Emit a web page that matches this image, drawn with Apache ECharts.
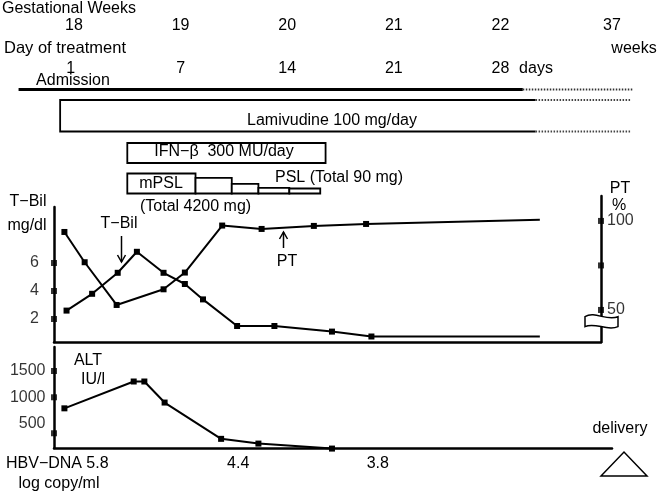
<!DOCTYPE html>
<html><head><meta charset="utf-8">
<script src="https://cdn.jsdelivr.net/npm/echarts@6/dist/echarts.min.js"></script>
<style>html,body{margin:0;padding:0;background:#fff}#c{width:661px;height:494px}</style>
</head><body><div id="c"></div>
<script>
// ---------------- data ----------------
const weekTicks = [18, 19, 20, 21, 22];
const weekLabels = ['18', '19', '20', '21', '22'];
const dayTickWeeks = [17.97, 19, 20, 21, 22];
const dayLabels = ['1', '7', '14', '21', '28'];

const hospitalization = [17.48, 22.21, 23.25];   // start, end solid, end dotted (weeks)
const lamivudine = [17.87, 22.33, 23.22];
const ifnBeta = [18.50, 20.36];
const steroidStarts = [18.50, 19.14, 19.48, 19.73, 20.02];
const steroidEnds   = [19.14, 19.48, 19.73, 20.02, 20.31];
const steroidDose   = [1.00, 0.78, 0.48, 0.28, 0.25]; // relative

const tbilWeeks  = [17.93, 18.17, 18.41, 18.59, 18.84, 19.04, 19.21, 19.53, 19.88, 20.42, 20.79, 22.37];
const tbilValues = [2.6, 3.8, 5.3, 6.8, 5.3, 4.5, 3.4, 1.5, 1.5, 1.1, 0.75, 0.75];
const ptWeeks  = [17.91, 18.10, 18.40, 18.84, 19.04, 19.39, 19.76, 20.25, 20.74, 22.37];
const ptValues = [93.8, 76.8, 52.8, 61.6, 71.0, 97.4, 95.5, 97.2, 98.3, 100.6];
const altWeeks  = [17.91, 18.56, 18.66, 18.85, 19.38, 19.73, 20.42];
const altValues = [790, 1300, 1300, 900, 210, 120, 25];

const tbilTicks = [2, 4, 6];
const ptTicks = [100, 75, 50];
const ptTickLabels = ['100', '', '50'];
const altTickMarks = [1500, 1000, 316];
const altLabelValues = [1500, 1000, 500];
const hbvWeeks = [18.22, 19.54, 20.85];
const hbvValues = ['5.8', '4.4', '3.8'];
const ptBreakValue = 44;

// ---------------- layout ----------------
const FONT = '"Liberation Sans", Arial, Helvetica, sans-serif';
const PXW = 106.6, X18 = 74;
const wk = px => 18 + (px - X18) / PXW;
const G = {
  frame: {left: 0, top: 0, width: 661, height: 494},
  tbil: {left: 54, top: 207, width: 547, height: 135},
  pt:   {left: 54, top: 196, width: 547, height: 146},
  alt:  {left: 54, top: 347, width: 558, height: 101}
};
const xr = g => ({min: wk(g.left), max: wk(g.left + g.width)});
const axisLine = {show: true, onZero: false, lineStyle: {color: '#000', width: 2.5}};
const off = {show: false};
const valAxis = extra => Object.assign({type: 'value', axisTick: off, axisLabel: off, splitLine: off}, extra);

const chart = echarts.init(document.getElementById('c'));

function txt(text, x, y, align, size) {
  align = align || 'center';
  return {type: 'text', x: x, y: y, silent: true, z: 10,
    style: {text: text, font: (size || 16) + 'px ' + FONT, fill: '#000',
      align: align, verticalAlign: 'middle', textAlign: align, textVerticalAlign: 'middle'}};
}
function textItem(text, p) {
  return {type: 'text', style: {text: text, x: p[0], y: p[1], font: '16px ' + FONT, fill: '#000',
    align: 'center', verticalAlign: 'middle', textAlign: 'center', textVerticalAlign: 'middle'}};
}

const series = [];
// header week / day labels
series.push({type: 'custom', xAxisIndex: 0, yAxisIndex: 0, silent: true,
  data: weekTicks.map((w, i) => [w, i]),
  renderItem: (p, api) => textItem(weekLabels[p.dataIndex], api.coord([api.value(0), 26]))});
series.push({type: 'custom', xAxisIndex: 0, yAxisIndex: 0, silent: true,
  data: dayTickWeeks.map((w, i) => [w, i]),
  renderItem: (p, api) => textItem(dayLabels[p.dataIndex], api.coord([api.value(0), 69]))});
series.push({type: 'custom', xAxisIndex: 0, yAxisIndex: 0, silent: true,
  data: hbvWeeks.map((w, i) => [w, i]),
  renderItem: (p, api) => textItem(hbvValues[p.dataIndex], api.coord([api.value(0), 464]))});

// hospitalization line
series.push({type: 'custom', xAxisIndex: 0, yAxisIndex: 0, silent: true,
  data: [hospitalization],
  renderItem: (p, api) => {
    const y = 89.5;
    const s = api.coord([api.value(0), y]), e = api.coord([api.value(1), y]), d = api.coord([api.value(2), y]);
    return {type: 'group', children: [
      {type: 'line', shape: {x1: s[0], y1: y, x2: e[0], y2: y}, style: {stroke: '#000', lineWidth: 3}},
      {type: 'line', shape: {x1: e[0], y1: y, x2: d[0], y2: y}, style: {stroke: '#333', lineWidth: 2, lineDash: [1.5, 1.5]}}
    ]};
  }});
// lamivudine box
series.push({type: 'custom', xAxisIndex: 0, yAxisIndex: 0, silent: true,
  data: [lamivudine],
  renderItem: (p, api) => {
    const t = 100, b = 131.5;
    const s = api.coord([api.value(0), t])[0], e = api.coord([api.value(1), t])[0], d = api.coord([api.value(2), t])[0];
    const solid = {stroke: '#000', lineWidth: 1.8}, dot = {stroke: '#444', lineWidth: 1.8, lineDash: [1.5, 1.5]};
    return {type: 'group', children: [
      {type: 'polyline', shape: {points: [[e, t], [s, t], [s, b], [e, b]]}, style: Object.assign({fill: null}, solid)},
      {type: 'line', shape: {x1: e, y1: t, x2: d, y2: t}, style: dot},
      {type: 'line', shape: {x1: e, y1: b, x2: d, y2: b}, style: dot}
    ]};
  }});
// IFN box
series.push({type: 'custom', xAxisIndex: 0, yAxisIndex: 0, silent: true,
  data: [ifnBeta],
  renderItem: (p, api) => {
    const s = api.coord([api.value(0), 0])[0], e = api.coord([api.value(1), 0])[0];
    return {type: 'rect', shape: {x: s, y: 143, width: e - s, height: 20}, style: {fill: '#fff', stroke: '#000', lineWidth: 1.8}};
  }});
// steroid steps
series.push({type: 'custom', xAxisIndex: 0, yAxisIndex: 0, silent: true,
  data: steroidStarts.map((s, i) => [s, steroidEnds[i], steroidDose[i]]),
  renderItem: (p, api) => {
    const s = api.coord([api.value(0), 0])[0], e = api.coord([api.value(1), 0])[0];
    const h = 20 * api.value(2), b = 193.5;
    return {type: 'rect', shape: {x: s, y: b - h, width: e - s, height: h}, style: {fill: '#fff', stroke: '#000', lineWidth: 1.8}};
  }});

// data lines
const lineSeries = (xi, yi, ws, vs) => ({
  type: 'line', xAxisIndex: xi, yAxisIndex: yi, animation: false, z: 5, clip: false,
  data: ws.map((w, i) => ({value: [w, vs[i]], symbol: i === ws.length - 1 && xi !== 3 ? 'none' : 'rect'})),
  symbol: 'rect', symbolSize: 6, showAllSymbol: true,
  lineStyle: {color: '#000', width: 2}, itemStyle: {color: '#000'}
});
series.push(lineSeries(1, 1, tbilWeeks, tbilValues));
series.push(lineSeries(2, 2, ptWeeks, ptValues));
series.push(lineSeries(3, 3, altWeeks, altValues));

// axis tick squares and labels
const lbl = (pos, dist, fmt) => ({show: true, position: pos, distance: dist, formatter: fmt, color: '#000', fontSize: 16, fontFamily: FONT});
series.push({type: 'scatter', xAxisIndex: 1, yAxisIndex: 1, clip: false, z: 6, symbol: 'rect', symbolSize: 6,
  itemStyle: {color: '#000'}, data: tbilTicks.map(v => [xr(G.tbil).min, v]),
  label: lbl('left', 12, p => String(p.value[1]))});
series.push({type: 'scatter', xAxisIndex: 2, yAxisIndex: 2, clip: false, z: 6, symbol: 'rect', symbolSize: 6,
  itemStyle: {color: '#000'}, data: ptTicks.map(v => [xr(G.pt).max, v]),
  label: lbl('right', 3, p => ptTickLabels[p.dataIndex])});
series.push({type: 'scatter', xAxisIndex: 3, yAxisIndex: 3, clip: false, z: 6, symbol: 'rect', symbolSize: 6,
  itemStyle: {color: '#000'}, data: altTickMarks.map(v => [xr(G.alt).min, v])});
series.push({type: 'scatter', xAxisIndex: 3, yAxisIndex: 3, clip: false, z: 6, symbol: 'rect', symbolSize: 1,
  itemStyle: {color: 'rgba(0,0,0,0)'}, data: altLabelValues.map(v => [xr(G.alt).min, v]),
  label: lbl('left', 8, p => String(p.value[1]))});
// PT axis break
series.push({type: 'custom', xAxisIndex: 2, yAxisIndex: 2, silent: true, z: 8, clip: false,
  data: [[xr(G.pt).max, ptBreakValue]],
  renderItem: (p, api) => {
    const c = api.coord([api.value(0), api.value(1)]);
    const x = c[0], y = c[1];
    const d = `M${x - 16} ${y - 4} C${x - 6} ${y - 10} ${x + 6} ${y + 1} ${x + 17} ${y - 4} L${x + 17} ${y + 6} C${x + 6} ${y + 11} ${x - 6} ${y + 1} ${x - 16} ${y + 6} Z`;
    return {type: 'path', shape: {pathData: d}, style: {fill: '#fff', stroke: '#000', lineWidth: 1.5}};
  }});

const arrowStyle = {stroke: '#000', lineWidth: 1.5, fill: null};
const graphic = [
  txt('Gestational Weeks', 2, 9, 'left'),
  txt('37', 612, 26),
  txt('Day of treatment', 4, 48, 'left', 16.5),
  txt('weeks', 634, 49),
  txt('days', 536, 69),
  txt('Admission', 73, 81),
  txt('Lamivudine 100 mg/day', 332, 121),
  txt('IFN\u2212\u03b2  300 MU/day', 224, 152),
  txt('mPSL', 161, 184),
  txt('PSL (Total 90 mg)', 275, 178, 'left'),
  txt('(Total 4200 mg)', 140, 207, 'left'),
  txt('T\u2212Bil', 28, 202),
  txt('mg/dl', 27, 226),
  txt('PT', 620, 189),
  txt('%', 619, 206),
  txt('T\u2212Bil', 119, 224),
  txt('PT', 287, 262),
  txt('ALT', 88, 361),
  txt('IU/l', 93, 380),
  txt('delivery', 620, 429),
  txt('HBV\u2212DNA', 6, 464, 'left'),
  txt('log copy/ml', 59, 484),
  {type: 'line', shape: {x1: 121.5, y1: 236, x2: 121.5, y2: 262}, style: arrowStyle, z: 10},
  {type: 'polyline', shape: {points: [[117.5, 255], [121.5, 262], [125.5, 255]]}, style: arrowStyle, z: 10},
  {type: 'line', shape: {x1: 283.5, y1: 248, x2: 283.5, y2: 232}, style: arrowStyle, z: 10},
  {type: 'polyline', shape: {points: [[279.5, 239], [283.5, 232], [287.5, 239]]}, style: arrowStyle, z: 10},
  {type: 'polygon', shape: {points: [[601, 476], [624, 452], [647, 476]]}, style: {fill: '#fff', stroke: '#000', lineWidth: 1.5}, z: 10}
];

chart.setOption({
  animation: false,
  backgroundColor: '#fff',
  grid: [G.frame, G.tbil, G.pt, G.alt].map(g => Object.assign({containLabel: false}, g)),
  xAxis: [
    valAxis(Object.assign({gridIndex: 0, show: false}, xr(G.frame))),
    valAxis(Object.assign({gridIndex: 1, axisLine: axisLine}, xr(G.tbil))),
    valAxis(Object.assign({gridIndex: 2, show: false}, xr(G.pt))),
    valAxis(Object.assign({gridIndex: 3, axisLine: axisLine}, xr(G.alt)))
  ],
  yAxis: [
    valAxis({gridIndex: 0, show: false, min: 0, max: 494, inverse: true}),
    valAxis({gridIndex: 1, min: 0.357, max: 10, axisLine: axisLine}),
    valAxis({gridIndex: 2, position: 'right', min: 32, max: 114, axisLine: axisLine}),
    valAxis({gridIndex: 3, min: 36, max: 1956, axisLine: axisLine})
  ],
  series: series,
  graphic: graphic
});
</script></body></html>
